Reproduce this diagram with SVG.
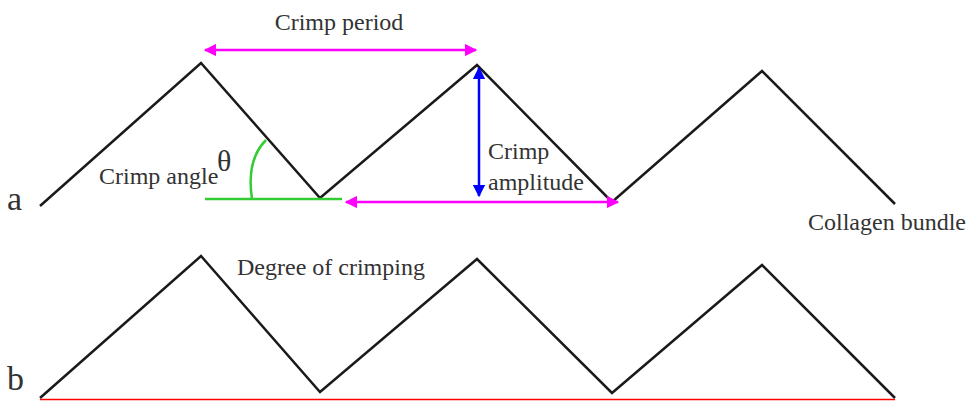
<svg xmlns="http://www.w3.org/2000/svg" width="969" height="401" viewBox="0 0 969 401">
<style>
.zz{fill:none;stroke:#1a1a1a;stroke-width:2.5;stroke-linejoin:miter}
.t{font-family:'Liberation Serif','Times New Roman',serif;fill:#333;font-size:24px}
</style>
<defs>
<marker id="mh" viewBox="0 0 10 10" refX="9" refY="5" markerWidth="5" markerHeight="5" orient="auto-start-reverse" markerUnits="strokeWidth"><path d="M0,0 L10,5 L0,10 z" fill="#ff00ff"/></marker>
<marker id="bh" viewBox="0 0 10 10" refX="9" refY="5" markerWidth="5" markerHeight="5" orient="auto-start-reverse" markerUnits="strokeWidth"><path d="M0,0 L10,5 L0,10 z" fill="#0000ff"/></marker>
</defs>
<g id="bundle-a"><polyline class="zz" points="40,206 201,63 320,198 477,65 612,202 762,71 895,204"/></g>
<g id="bundle-b"><polyline class="zz" points="40,398 201,256 320,392 477,259 612,393 762,265 895,398"/></g>
<g id="connectors">
<line x1="205" y1="50" x2="476" y2="50" stroke="#ff00ff" stroke-width="2.5" marker-start="url(#mh)" marker-end="url(#mh)"/>
<line x1="479" y1="68" x2="479" y2="196" stroke="#0000ff" stroke-width="2.5" marker-start="url(#bh)" marker-end="url(#bh)"/>
<line x1="346" y1="202" x2="618" y2="202" stroke="#ff00ff" stroke-width="2.5" marker-start="url(#mh)" marker-end="url(#mh)"/>
<line x1="205" y1="199" x2="342" y2="199" stroke="#33cc33" stroke-width="2.5"/>
<path d="M266,140 Q246,160 252,199" fill="none" stroke="#33cc33" stroke-width="2.5"/>
<line x1="40" y1="399.5" x2="895" y2="399.5" stroke="#ff0000" stroke-width="1.5"/>
</g>
<g id="labels">
<text class="t" x="339" y="30" text-anchor="middle">Crimp period</text>
<text class="t" x="99" y="184">Crimp angle</text>
<text class="t" x="217" y="171" style="font-size:30px">θ</text>
<text class="t" x="488" y="159">Crimp</text>
<text class="t" x="488" y="190">amplitude</text>
<text class="t" x="7" y="210" style="font-size:34px">a</text>
<text class="t" x="7" y="390" style="font-size:34px">b</text>
<text class="t" x="808" y="230">Collagen bundle</text>
<text class="t" x="237" y="275">Degree of crimping</text>
</g>
</svg>
